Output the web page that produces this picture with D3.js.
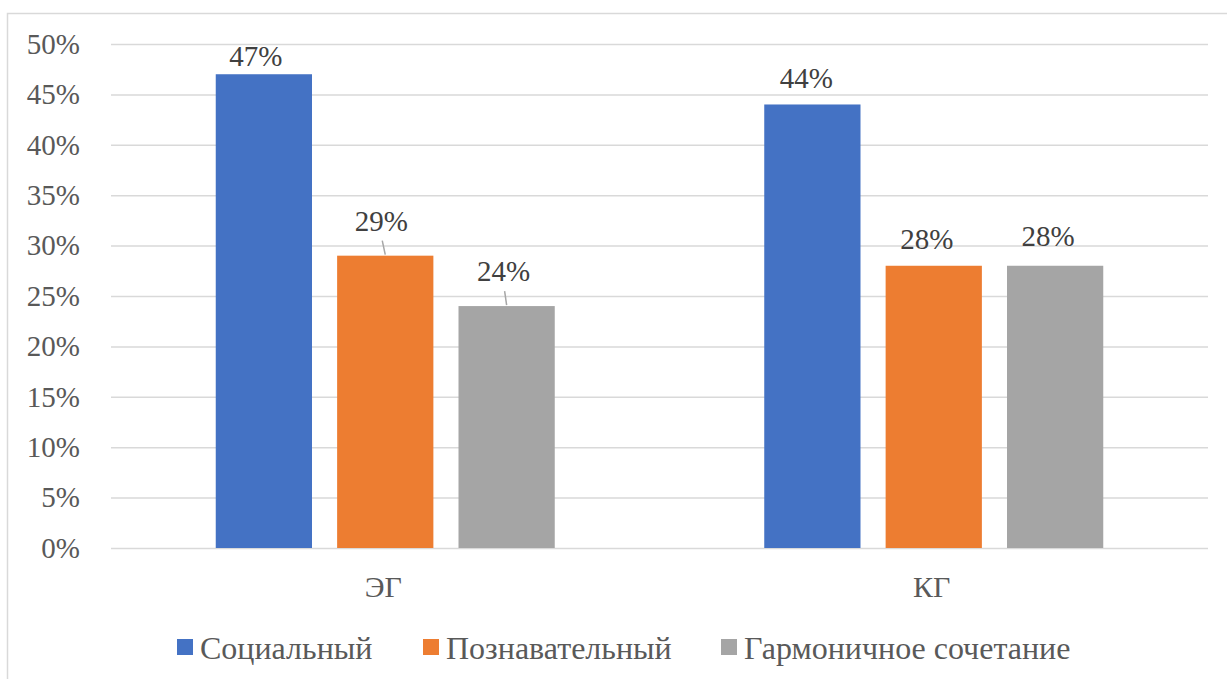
<!DOCTYPE html>
<html>
<head>
<meta charset="utf-8">
<script src="https://cdn.jsdelivr.net/npm/d3@7"></script>
<style>
  body { margin: 0; background: #fff; }
</style>
</head>
<body>
<div id="chart"></div>
<script>
var categories = ["ЭГ", "КГ"];
var seriesNames = ["Социальный", "Познавательный", "Гармоничное сочетание"];
var social = [0.47, 0.44];
var cognitive = [0.29, 0.28];
var harmonic = [0.24, 0.28];
var yTicks = [0, 0.05, 0.1, 0.15, 0.2, 0.25, 0.3, 0.35, 0.4, 0.45, 0.5];

var colors = ["#4472c4", "#ed7d31", "#a5a5a5"];
var values = [social, cognitive, harmonic];
var serif = "Liberation Serif, Times New Roman, DejaVu Serif, serif";

var width = 1227, height = 679;
var plot = {left: 111, right: 1208, top: 44, bottom: 548};

var svg = d3.select("#chart").append("svg")
    .attr("width", width)
    .attr("height", height)
    .style("font-family", serif);

// chart frame
svg.append("rect")
  .attr("x", 7.5).attr("y", 13.5)
  .attr("width", 1240).attr("height", 700)
  .attr("fill", "none")
  .attr("stroke", "#d9d9d9")
  .attr("stroke-width", 1.5);

var x0 = d3.scaleBand()
  .domain(categories)
  .range([plot.left, plot.right]);

var x1 = d3.scaleBand()
  .domain(seriesNames)
  .range([0, x0.bandwidth()])
  .paddingInner(0.207)
  .paddingOuter(0.863);

var y = d3.scaleLinear()
  .domain([0, 0.5])
  .range([plot.bottom, plot.top]);

var yAxis = svg.append("g")
  .attr("transform", "translate(" + plot.left + ",0)")
  .call(d3.axisLeft(y)
    .tickValues(yTicks)
    .tickFormat(d3.format(".0%"))
    .tickSize(-(plot.right - plot.left))
    .tickPadding(31));

yAxis.attr("font-family", null).attr("font-size", null);
yAxis.select(".domain").remove();
yAxis.selectAll(".tick line")
  .attr("stroke", "#d9d9d9")
  .attr("stroke-width", 1.5);
yAxis.selectAll(".tick text")
  .attr("fill", "#595959")
  .style("font-family", serif)
  .style("font-size", "29px");

// bars
var groups = svg.selectAll(".group")
  .data(categories)
  .enter().append("g")
    .attr("class", "group")
    .attr("transform", function(d) { return "translate(" + x0(d) + ",0)"; });

seriesNames.forEach(function(s, si) {
  groups.append("rect")
    .attr("x", x1(s))
    .attr("y", function(d, i) { return y(values[si][i]); })
    .attr("width", x1.bandwidth())
    .attr("height", function(d, i) { return y(0) - y(values[si][i]); })
    .attr("fill", colors[si]);
});

// data labels (lift above bar top, moved ones get a leader line)
var lift = [[8, 16], [25, 17], [25, 20]];
var leader = [[false, false], [true, false], [true, false]];
var nudge = [[-8, -6], [-4, -7], [-3, -7]];

seriesNames.forEach(function(s, si) {
  categories.forEach(function(c, ci) {
    var cx = x0(c) + x1(s) + x1.bandwidth() / 2;
    var top = y(values[si][ci]);
    var lx = cx + nudge[si][ci];
    var ly = top - lift[si][ci];
    if (leader[si][ci]) {
      svg.append("line")
        .attr("x1", lx + 1).attr("y1", ly + 10)
        .attr("x2", cx).attr("y2", top - 1)
        .attr("stroke", "#a6a6a6")
        .attr("stroke-width", 1.5);
    }
    svg.append("text")
      .attr("x", lx)
      .attr("y", ly)
      .attr("text-anchor", "middle")
      .attr("fill", "#404040")
      .style("font-family", serif)
      .style("font-size", "29px")
      .text(d3.format(".0%")(values[si][ci]));
  });
});

// category labels
svg.selectAll(".cat")
  .data(categories)
  .enter().append("text")
    .attr("class", "cat")
    .attr("x", function(d) { return x0(d) + x0.bandwidth() / 2 - 2; })
    .attr("y", 597)
    .attr("text-anchor", "middle")
    .attr("fill", "#595959")
    .style("font-family", serif)
    .style("font-size", "30px")
    .text(function(d) { return d; });

// legend
var legendX = [177, 423, 721];
var legend = svg.selectAll(".legend")
  .data(seriesNames)
  .enter().append("g")
    .attr("class", "legend")
    .attr("transform", function(d, i) { return "translate(" + legendX[i] + ",639)"; });

legend.append("rect")
  .attr("width", 16).attr("height", 16)
  .attr("fill", function(d, i) { return colors[i]; });

legend.append("text")
  .attr("x", 23)
  .attr("y", 20)
  .attr("fill", "#595959")
  .style("font-family", serif)
  .style("font-size", "32px")
  .text(function(d) { return d; });
</script>
</body>
</html>
